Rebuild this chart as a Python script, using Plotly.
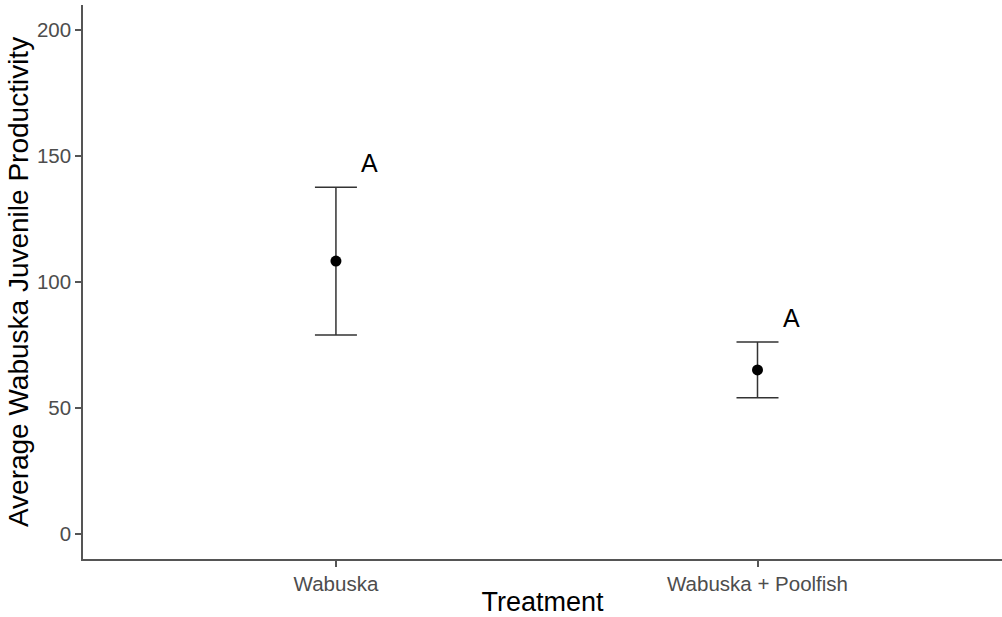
import plotly.graph_objects as go

# Treatment groups and summary statistics (mean ± SE)
treatments = ["Wabuska", "Wabuska + Poolfish"]
mean_productivity = [108.3, 65.1]
se_productivity = [29.3, 11.1]
group_letters = ["A", "A"]

xpos = list(range(1, len(treatments) + 1))
FONT = "Liberation Sans, Arial, sans-serif"

fig = go.Figure()

fig.add_trace(go.Scatter(
    x=xpos,
    y=mean_productivity,
    mode="markers",
    marker=dict(color="black", size=11),
    error_y=dict(
        type="data",
        array=se_productivity,
        symmetric=True,
        color="#333333",
        thickness=1.5,
        width=21,
    ),
    showlegend=False,
    hoverinfo="skip",
))

# significance letters placed just above each error bar
for x, m, s, lab in zip(xpos, mean_productivity, se_productivity, group_letters):
    fig.add_annotation(
        x=x + 0.08, y=m + s + 9.5, text=lab, showarrow=False,
        font=dict(family=FONT, size=25, color="black"),
        xanchor="center", yanchor="middle",
    )

axis_common = dict(
    showgrid=False,
    zeroline=False,
    showline=True,
    linecolor="#555555",
    linewidth=1.5,
    ticks="outside",
    ticklen=6,
    tickwidth=1.5,
    tickcolor="#555555",
    tickfont=dict(family=FONT, size=20.5, color="#4D4D4D"),
)

fig.update_xaxes(
    **axis_common,
    range=[0.4, 2.58],
    tickvals=xpos,
    ticktext=treatments,
    title=dict(text="Treatment", standoff=4,
               font=dict(family=FONT, size=27, color="black")),
)
fig.update_yaxes(
    **axis_common,
    range=[-10, 210],
    tickvals=[0, 50, 100, 150, 200],
    title=dict(text="Average Wabuska Juvenile Productivity", standoff=0,
               font=dict(family=FONT, size=28, color="black")),
)

fig.update_layout(
    width=1002,
    height=617,
    margin=dict(l=83, r=0, t=5, b=58),
    plot_bgcolor="white",
    paper_bgcolor="white",
)

fig.write_html("out.html")
